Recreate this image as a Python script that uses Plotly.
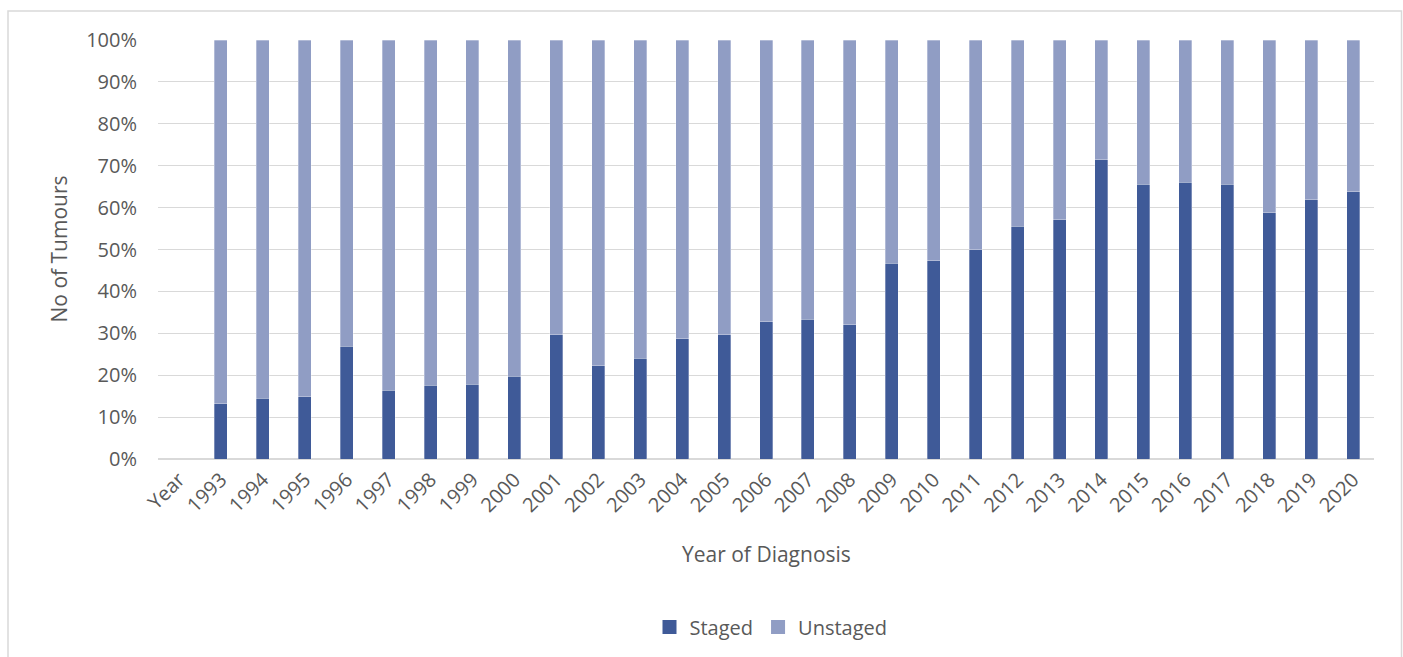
import plotly.graph_objects as go

categories = ["Year"] + [str(y) for y in range(1993, 2021)]
staged = [None, 13.2, 14.5, 14.8, 26.9, 16.4, 17.6, 17.9, 19.8, 29.7,
          22.2, 24.0, 28.7, 29.7, 32.7, 33.3, 32.1, 46.7, 47.3, 50.0,
          55.5, 57.1, 71.4, 65.6, 66.0, 65.6, 58.8, 61.9, 63.8]
unstaged = [None if s is None else round(100 - s, 1) for s in staged]
series_names = ["Staged", "Unstaged"]

STAGED_COLOR = "#3F5A98"
UNSTAGED_COLOR = "#909DC4"
TEXT_COLOR = "#595959"
GRID_COLOR = "#D9D9D9"
FONT = "Open Sans"

fig = go.Figure()
for name, vals, col in zip(series_names, [staged, unstaged], [STAGED_COLOR, UNSTAGED_COLOR]):
    fig.add_trace(go.Bar(x=categories, y=vals, name=name, showlegend=False, legendgroup=name,
                         marker=dict(color=col, line=dict(color="rgba(255,255,255,0.5)", width=0.6))))
for name, col in zip(series_names, [STAGED_COLOR, UNSTAGED_COLOR]):
    fig.add_trace(go.Scatter(x=[None], y=[None], mode="markers", name=name, legendgroup=name,
                             marker=dict(symbol="square", size=14, color=col)))

W, H = 1403, 657
L, R, T, B = 158, 29, 40, 197
pw, ph = W - L - R, H - T - B

def px_x(p):
    return (p - L) / pw

def px_y(p):
    return (H - B - p) / ph

fig.update_layout(
    width=W, height=H,
    margin=dict(l=L, r=R, t=T, b=B),
    barmode="stack",
    bargap=0.69,
    paper_bgcolor="white",
    plot_bgcolor="white",
    font=dict(family=FONT, color=TEXT_COLOR, size=20),
    showlegend=True,
    legend=dict(orientation="h", x=px_x(771), xanchor="center", y=px_y(627), yanchor="middle",
                font=dict(size=20, color=TEXT_COLOR), traceorder="normal",
                itemwidth=30, itemsizing="trace"),
    xaxis=dict(type="category", tickangle=-45, showgrid=False, showline=False,
               ticks="", tickfont=dict(size=20, color=TEXT_COLOR), ticklabelstandoff=4),
    yaxis=dict(range=[0, 100], dtick=10, ticksuffix="%", showgrid=True,
               gridcolor=GRID_COLOR, gridwidth=1, zeroline=True, zerolinecolor=GRID_COLOR,
               zerolinewidth=1.5, showline=False, ticks="",
               tickfont=dict(size=20, color=TEXT_COLOR), ticklabelstandoff=20),
    annotations=[
        dict(text="Year of Diagnosis", xref="paper", yref="paper", x=px_x(766), y=px_y(555),
             xanchor="center", yanchor="middle", showarrow=False,
             font=dict(size=21, color=TEXT_COLOR, family=FONT)),
        dict(text="No of Tumours", xref="paper", yref="paper", x=px_x(58), y=px_y(250),
             xanchor="center", yanchor="middle", showarrow=False, textangle=-90,
             font=dict(size=21, color=TEXT_COLOR, family=FONT)),
    ],
    shapes=[dict(type="rect", xref="paper", yref="paper",
                 x0=px_x(8), x1=px_x(1401.5), y0=px_y(700), y1=px_y(11),
                 line=dict(color=GRID_COLOR, width=1.5), fillcolor="rgba(0,0,0,0)", layer="below")],
)

fig.write_html("out.html")
